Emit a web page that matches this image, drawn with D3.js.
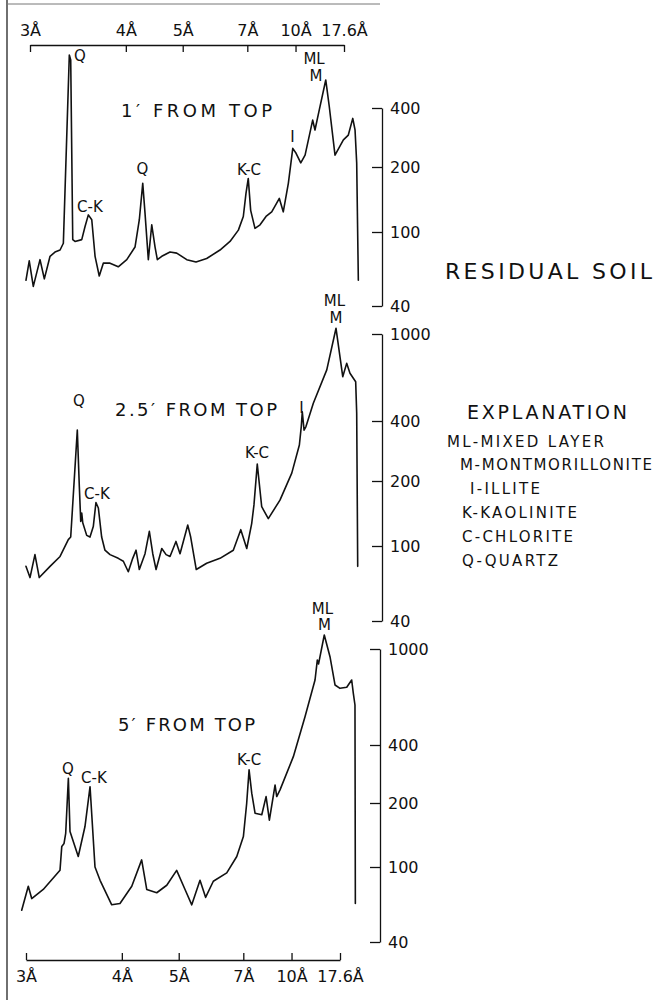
<!DOCTYPE html>
<html><head><meta charset="utf-8">
<script src="https://cdn.jsdelivr.net/npm/d3@7"></script>
<style>
body{margin:0;background:#fff;}
svg text{font-family:"DejaVu Sans","Liberation Sans",sans-serif;fill:#111;}
</style></head><body>
<svg id="c" width="662" height="1000"></svg>
<script>
// ---------- DATA ----------
const dTicks = [3, 4, 5, 7, 10, 17.6];
const dTickLabels = ["3Å", "4Å", "5Å", "7Å", "10Å", "17.6Å"];
const wavelength = 1.5418; // Cu K-alpha, for d -> 2θ

const p1Ticks = [40, 100, 200, 400];
const p23Ticks = [40, 100, 200, 400, 1000];

// Panel 1: 1' from top  (x = degrees 2θ, y = counts)
const p1TwoTheta = [30.10,29.84,29.52,28.99,28.65,28.20,27.81,27.41,27.15,26.68,26.57,26.41,26.23,25.70,25.44,25.18,24.91,24.65,24.32,24.00,23.47,22.82,22.15,21.50,21.16,20.89,20.71,20.45,20.18,19.92,19.74,19.39,18.74,18.21,17.42,16.69,15.85,14.80,14.01,13.35,12.96,12.75,12.57,12.38,12.04,11.64,11.17,10.72,10.33,10.12,9.81,9.41,9.06,8.80,8.43,8.09,7.49,7.31,6.97,6.46,6.18,5.73,5.07,4.68,4.33,4.15,4.02,3.89];
const p1Counts = [55,70,51,71,56,74,78,80,87,746,703,91,89,91,106,120,114,74,58,68,68,65,71,83,114,168,122,71,108,83,71,74,78,77,71,69,72,80,89,102,118,151,177,126,104,108,118,124,136,143,124,168,249,235,210,230,347,309,391,556,406,230,275,291,354,309,210,55];

// Panel 2: 2.5' from top
const p2TwoTheta = [30.10,29.78,29.39,29.05,28.20,27.41,26.76,26.57,26.05,25.89,25.78,25.70,25.62,25.31,25.05,24.79,24.58,24.39,24.13,23.87,23.47,22.82,22.42,22.03,21.68,21.42,21.16,20.71,20.37,20.10,19.84,19.39,19.05,18.74,18.27,17.95,17.34,17.11,16.67,15.85,14.80,13.75,13.16,12.69,12.30,12.12,11.86,11.51,10.99,10.07,9.14,8.54,8.39,8.31,8.17,8.02,7.44,6.38,5.65,5.12,4.81,4.55,4.10,4.02,3.94];
const p2Counts = [78,68,90,68,78,88,107,110,360,188,130,142,128,112,110,123,159,150,110,95,90,86,83,73,86,95,75,91,117,91,75,97,90,88,105,91,125,110,75,81,86,95,119,97,127,155,243,152,134,163,219,303,375,441,360,375,482,685,1062,638,734,661,605,434,78];

// Panel 3: 5' from top
const p3TwoTheta = [30.12,29.60,29.33,28.42,27.10,26.96,26.78,26.65,26.44,26.31,25.66,25.13,24.73,24.34,23.94,23.02,22.37,21.44,20.66,20.26,19.47,18.68,17.90,17.24,16.71,16.06,15.62,15.01,13.95,13.16,12.64,12.38,12.19,11.98,11.72,11.19,10.85,10.59,10.14,10.01,9.75,8.70,7.78,6.99,6.81,6.71,6.26,5.81,5.41,5.02,4.49,4.10,3.97,3.84,3.81];
const p3Counts = [59,79,68,76,96,125,129,144,269,147,112,155,243,100,85,63,64,79,108,76,73,80,96,76,63,85,69,84,93,112,139,199,297,225,179,176,216,166,248,216,234,348,524,744,900,867,1143,929,709,687,694,744,655,586,64];

// Peak labels (anchored in data space: 2θ, counts at text baseline)
const p1LabelText = ["Q","C-K","Q","K-C","I","ML","M"];
const p1LabelTT = [25.84,25.05,20.91,12.51,9.08,7.38,7.23];
const p1LabelC = [695,124,186,184,268,671,549];
const p2LabelText = ["Q","C-K","K-C","I","ML","M"];
const p2LabelTT = [25.92,24.50,11.88,8.37,5.77,5.65];
const p2LabelC = [468,165,261,435,1343,1123];
const p3LabelText = ["Q","C-K","K-C","ML","M"];
const p3LabelTT = [26.47,24.42,12.19,6.40,6.24];
const p3LabelC = [283,254,315,1396,1199];

const panelTitles = ["1′ FROM TOP", "2.5′ FROM TOP", "5′ FROM TOP"];
const legendTitle = "EXPLANATION";
const legendItems = ["ML-MIXED LAYER", "M-MONTMORILLONITE", "I-ILLITE", "K-KAOLINITE", "C-CHLORITE", "Q-QUARTZ"];
const sideTitle = "RESIDUAL SOIL";

// ---------- DRAW ----------
const svg = d3.select("#c");
const ink = "#111";
const twoTheta = d => 2 * Math.asin(wavelength / (2 * d)) * 180 / Math.PI;

const xTop = d3.scaleLinear().domain([twoTheta(3), twoTheta(17.6)]).range([30, 344]);
const xBot = d3.scaleLinear().domain([twoTheta(3), twoTheta(17.6)]).range([26, 340]);

// hand-ruled log axes (piecewise log, following the drawn tick positions)
const y1 = d3.scaleLog().domain(p1Ticks).range([306, 232, 167, 108]);
const y2 = d3.scaleLog().domain(p23Ticks).range([621, 546, 481, 421, 334]);
const y3 = d3.scaleLog().domain(p23Ticks).range([942, 867, 803, 745, 649]);

// frame
svg.append("line").attr("x1",7).attr("x2",7).attr("y1",0).attr("y2",1000).attr("stroke","#333").attr("stroke-width",1.4);
svg.append("line").attr("x1",7).attr("x2",380).attr("y1",4).attr("y2",4).attr("stroke","#777").attr("stroke-width",1);

// top & bottom axes
const tickVals = dTicks.map(twoTheta);
const fmtD = (v) => dTickLabels[tickVals.indexOf(v)];
const topAxis = d3.axisTop(xTop).tickValues(tickVals).tickFormat(fmtD).tickSizeInner(-7).tickSizeOuter(0).tickPadding(9);
const botAxis = d3.axisBottom(xBot).tickValues(tickVals).tickFormat(fmtD).tickSizeInner(-7).tickSizeOuter(0).tickPadding(11);
function styleAxis(g, fs) {
  g.select(".domain").attr("stroke", ink).attr("stroke-width", 1.3);
  g.selectAll(".tick line").attr("stroke", ink).attr("stroke-width", 1.3);
  g.selectAll(".tick text").attr("fill", ink).attr("font-size", fs).attr("font-family", '"DejaVu Sans",sans-serif');
}
svg.append("g").attr("transform","translate(0,45)").call(topAxis).call(g => styleAxis(g, 16));
svg.append("g").attr("transform","translate(0,960)").call(botAxis).call(g => styleAxis(g, 16));

// right log axes
function rightAxis(scale, ticks, x) {
  const ax = d3.axisRight(scale).tickValues(ticks).tickFormat(d3.format("d")).tickSizeInner(-10).tickSizeOuter(0).tickPadding(8);
  svg.append("g").attr("transform", `translate(${x},0)`).call(ax).call(g => styleAxis(g, 16));
}
rightAxis(y1, p1Ticks, 382);
rightAxis(y2, p23Ticks, 382);
rightAxis(y3, p23Ticks, 380);

// traces
function trace(tt, cs, xs, ys) {
  const pts = tt.map((t, i) => [t, cs[i]]);
  const line = d3.line().x(d => xs(d[0])).y(d => ys(d[1]));
  svg.append("path").attr("d", line(pts)).attr("fill","none").attr("stroke", ink)
     .attr("stroke-width", 1.6).attr("stroke-linejoin","round").attr("stroke-linecap","round");
}
trace(p1TwoTheta, p1Counts, xTop, y1);
trace(p2TwoTheta, p2Counts, xTop, y2);
trace(p3TwoTheta, p3Counts, xBot, y3);

// peak labels ("M" is stacked under "ML" inside the same text element)
function labels(txt, tt, cs, xs, ys) {
  let mlNode = null;
  txt.forEach((t, i) => {
    if (t === "M" && mlNode) {
      mlNode.append("tspan").attr("x", xs(tt[i])).attr("y", ys(cs[i])).text(t);
      return;
    }
    const node = svg.append("text").attr("text-anchor","middle").attr("font-size", 15);
    node.append("tspan").attr("x", xs(tt[i])).attr("y", ys(cs[i])).text(t);
    if (t === "ML") mlNode = node;
  });
}
labels(p1LabelText, p1LabelTT, p1LabelC, xTop, y1);
labels(p2LabelText, p2LabelTT, p2LabelC, xTop, y2);
labels(p3LabelText, p3LabelTT, p3LabelC, xBot, y3);

// panel titles
const titlePos = [[121, 117, 151], [115, 416, 162], [118, 731, 137]];
panelTitles.forEach((t, i) => {
  svg.append("text").attr("x", titlePos[i][0]).attr("y", titlePos[i][1]).attr("font-size", 18)
    .attr("textLength", titlePos[i][2]).attr("lengthAdjust","spacing").text(t);
});

// side title and explanation
svg.append("text").attr("x", 445).attr("y", 279).attr("font-size", 22)
  .attr("textLength", 207).attr("lengthAdjust","spacing").text(sideTitle);
svg.append("text").attr("x", 467).attr("y", 419).attr("font-size", 19)
  .attr("textLength", 160).attr("lengthAdjust","spacing").text(legendTitle);
const legPos = [[447, 447, 157], [460, 470, 192], [470, 494, 70], [462, 518, 115], [462, 542, 111], [462, 566, 96]];
legendItems.forEach((t, i) => {
  svg.append("text").attr("x", legPos[i][0]).attr("y", legPos[i][1]).attr("font-size", 15)
    .attr("textLength", legPos[i][2]).attr("lengthAdjust","spacing").text(t);
});
</script>
</body></html>
